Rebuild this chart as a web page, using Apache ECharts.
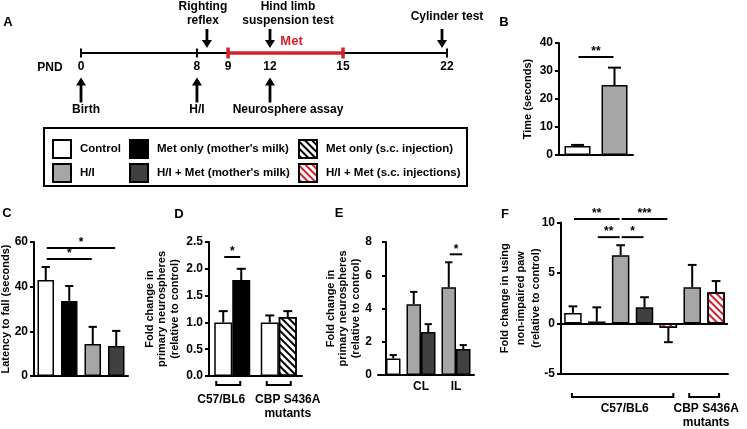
<!DOCTYPE html>
<html><head><meta charset="utf-8">
<script src="https://cdn.jsdelivr.net/npm/echarts@6/dist/echarts.min.js"></script>
<style>html,body{margin:0;padding:0;background:#fff}#c{width:747px;height:429px}</style>
</head><body><div id="c"></div>
<script>
// ================= DATA =================
// Panel A timeline (postnatal day labels and their schematic position on the drawn line)
const pndLabels = ['0', '8', '9', '12', '15', '22'];
const pndPos = [0, 6.97, 8.84, 11.36, 15.75, 22];
const pndTicked = [1, 1, 1, 0, 1, 1];
const metRange = [8.84, 15.75];
const eventsAbove = ['Righting\nreflex', 'Hind limb\nsuspension test', 'Cylinder test'];
const eventsAbovePos = [7.57, 11.36, 21.7];
const eventsBelow = ['Birth', 'H/I', 'Neurosphere assay'];
const eventsBelowPos = [0, 6.97, 11.36];

// Groups
const G_CTRL = 'Control', G_HI = 'H/I', G_MM = "Met only (mother's milk)", G_HIMM = "H/I + Met (mother's milk)",
      G_MS = 'Met only (s.c. injection)', G_HIMS = 'H/I + Met (s.c. injections)';

// Panel B
const bGroups = [G_CTRL, G_HI];
const bMean = [3.2, 25.0];
const bErr = [3.6, 31.2];
const bSig = [[0, 0, 1, 0, 35]]; const bSigText = ['**'];

// Panel C
const cGroups = [G_CTRL, G_MM, G_HI, G_HIMM];
const cMean = [43.0, 33.6, 14.3, 13.4];
const cErr = [48.8, 40.3, 22.0, 20.2];
const cSig = [[0, 0, 3, 0, 57.3], [0, 0, 2, 0, 52.4]]; const cSigText = ['*', '*'];

// Panel D
const dCategories = ['C57/BL6', 'CBP S436A\nmutants'];
const dControl = [1.0, 1.0];
const dControlErr = [1.21, 1.13];
const dMetMilk = [1.79, '-'];
const dMetMilkErr = [2.0, '-'];
const dMetSc = ['-', 1.10];
const dMetScErr = ['-', 1.21];
const dSig = [[0, 0, 0, 1, 2.22]]; const dSigText = ['*'];

// Panel E
const eCategories = ['', 'CL', 'IL'];
const eControl = [1.0, '-', '-'];
const eControlErr = [1.2, '-', '-'];
const eHI = ['-', 4.26, 5.28];
const eHIErr = ['-', 5.0, 6.78];
const eHIMet = ['-', 2.58, 1.56];
const eHIMetErr = ['-', 3.06, 1.8];
const eSig = [[2, 0, 2, 1, 7.26]]; const eSigText = ['*'];

// Panel F
const fGroups = [G_CTRL, G_MM, G_HI, G_HIMM, G_HIMS, G_HI, G_HIMS];
const fMean = [1.05, 0.2, 6.76, 1.6, -0.45, 3.6, 3.1];
const fErr = [1.7, 1.6, 7.75, 2.6, -1.85, 5.8, 4.2];
const fStrains = ['C57/BL6', 'CBP S436A\nmutants'];
const fStrainSpan = [[0, 0, 4, 0], [5, 0, 6, 0]];
const fSig = [[0, 0, 2, 0, 10.34], [2, 0, 4, 0, 10.34], [1, 0, 2, 0, 8.55], [2, 0, 3, 0, 8.55]];
const fSigText = ['**', '***', '**', '*'];

// ================= STYLE =================
const FONT = "'Liberation Sans', Arial, Helvetica, sans-serif";
const RED = '#d3202e';
function stripe(c) { return { symbol: 'rect', symbolSize: 1, dashArrayX: [1, 0], dashArrayY: [2, 2.2], rotation: Math.PI / 4, color: c }; }
const FILL = {}; FILL[G_CTRL] = '#ffffff'; FILL[G_HI] = '#a6a6a6'; FILL[G_MM] = '#000000'; FILL[G_HIMM] = '#404040'; FILL[G_MS] = '#ffffff'; FILL[G_HIMS] = '#ffffff';
const DECAL = {}; DECAL[G_MS] = stripe('#000'); DECAL[G_HIMS] = stripe(RED);
function barStyle(name) {
  const s = { color: FILL[name], borderColor: '#000', borderWidth: 1.5, opacity: 1 };
  if (DECAL[name]) s.decal = DECAL[name];
  return s;
}
const aboveLabelDx = [-4, 18, 5], aboveLabelDist = [1, 1, 5];
const belowLabelDx = [5, 0, 18];
const dBracketDx = [-4, 0], dLabelDx = [-7, 9];
const fBracketDx = [2, 0], fLabelDx = [2, 2];

function arrowPath(len, head) {
  return 'path://M3.6,0 L6.4,0 L6.4,' + (len - head) + ' L10,' + (len - head) + ' L5,' + len + ' L0,' + (len - head) + ' L3.6,' + (len - head) + ' Z';
}

// ================= HELPERS =================
function singleSlotBars(gi, groups, means, barW) {
  const uniq = [...new Set(groups)];
  return uniq.map(name => ({
    type: 'bar', name, xAxisIndex: gi, yAxisIndex: gi, silent: true,
    data: groups.map((g, i) => g === name ? means[i] : '-'),
    barWidth: barW, barGap: '-100%', itemStyle: barStyle(name), z: 2
  }));
}
function errRender(barW, nSlots) {
  return function (params, api) {
    const b = api.coord([api.value(0), api.value(1)]);
    const t = api.coord([api.value(0), api.value(2)]);
    const x = b[0] + (api.value(3) - (nSlots - 1) / 2) * barW;
    const cap = barW * 0.5;
    const st = { stroke: '#000', lineWidth: 2 };
    return { type: 'group', children: [
      { type: 'line', shape: { x1: x, y1: b[1], x2: x, y2: t[1] }, style: st },
      { type: 'line', shape: { x1: x - cap / 2, y1: t[1], x2: x + cap / 2, y2: t[1] }, style: st }
    ] };
  };
}
function errSeries(gi, rows, barW, nSlots) {
  return { type: 'custom', xAxisIndex: gi, yAxisIndex: gi, silent: true, z: 3, clip: false,
    encode: { x: 0, y: 1 }, data: rows, renderItem: errRender(barW, nSlots) };
}
function sigSeries(gi, rows, texts, barW, nSlots) {
  return { type: 'custom', xAxisIndex: gi, yAxisIndex: gi, silent: true, z: 4, clip: false,
    encode: { x: 0, y: 4 }, data: rows,
    renderItem: function (params, api) {
      const off = s => (s - (nSlots - 1) / 2) * barW;
      const p1 = api.coord([api.value(0), api.value(4)]);
      const p2 = api.coord([api.value(2), api.value(4)]);
      const x1 = p1[0] + off(api.value(1)) + 1, x2 = p2[0] + off(api.value(3)) - 1;
      const y = p1[1];
      return { type: 'group', children: [
        { type: 'line', shape: { x1: x1, y1: y, x2: x2, y2: y }, style: { stroke: '#000', lineWidth: 2 } },
        { type: 'text', style: { text: texts[params.dataIndex], x: (x1 + x2) / 2, y: y + 1, align: 'center', verticalAlign: 'bottom', fill: '#000', font: 'bold 12px ' + FONT } }
      ] };
    } };
}
function bracketSeries(gi, rows, texts, barW, nSlots, yMin, dy, ty, bdx, ldx) {
  return { type: 'custom', xAxisIndex: gi, yAxisIndex: gi, silent: true, z: 4, clip: false,
    encode: { x: 0, y: 1 }, data: rows,
    renderItem: function (params, api) {
      const off = s => (s - (nSlots - 1) / 2) * barW;
      const i = params.dataIndex;
      const p1 = api.coord([api.value(0), yMin]);
      const p2 = api.coord([api.value(2), yMin]);
      const x1 = p1[0] + off(api.value(1)) - 3 + bdx[i], x2 = p2[0] + off(api.value(3)) + 3 + bdx[i];
      const y = p1[1] + dy;
      return { type: 'group', children: [
        { type: 'polyline', shape: { points: [[x1, y - 4], [x1, y], [x2, y], [x2, y - 4]] }, style: { stroke: '#000', lineWidth: 2, fill: null } },
        { type: 'text', style: { text: texts[i], x: (x1 + x2) / 2 + ldx[i], y: p1[1] + ty, align: 'center', verticalAlign: 'top', fill: '#000', font: 'bold 12px ' + FONT, lineHeight: 14 } }
      ] };
    } };
}
const axLine = { show: true, onZero: true, lineStyle: { color: '#000', width: 2 } };
function yAx(gi, min, max, interval, name, gap, fmt, lh) {
  return { gridIndex: gi, type: 'value', min, max, interval,
    name, nameLocation: 'middle', nameRotate: 90, nameGap: gap, nameMoveOverlap: false,
    nameTextStyle: { color: '#000', fontWeight: 'bold', fontSize: 11, fontFamily: FONT, lineHeight: lh || 12.5 },
    axisLine: axLine, axisTick: { show: true, length: 4, lineStyle: { color: '#000', width: 2 } },
    axisLabel: { color: '#000', fontWeight: 'bold', fontSize: 12, fontFamily: FONT, margin: 6, formatter: fmt },
    splitLine: { show: false } };
}
function xCat(gi, data, extra) {
  return Object.assign({ gridIndex: gi, type: 'category', data, axisLine: axLine, axisTick: { show: false }, axisLabel: { show: false } }, extra || {});
}
const txtBlack = { color: '#000', fontWeight: 'bold', fontSize: 12, fontFamily: FONT };
const hidden = { color: 'rgba(0,0,0,0)', opacity: 1 };

// ================= SERIES =================
const series = [];
// ---- A: timeline
series.push({ type: 'line', xAxisIndex: 0, yAxisIndex: 0, silent: true, symbol: 'none', z: 2,
  data: [[pndPos[0], 0], [pndPos[pndPos.length - 1], 0]], lineStyle: { color: '#000', width: 2 } });
series.push({ type: 'line', xAxisIndex: 0, yAxisIndex: 0, silent: true, symbol: 'none', z: 3,
  data: [[metRange[0], 0], [metRange[1], 0]], lineStyle: { color: RED, width: 3.5 } });
series.push({ type: 'scatter', xAxisIndex: 0, yAxisIndex: 0, silent: true, symbol: 'rect', z: 4,
  data: pndPos.map((p, i) => {
    if (!pndTicked[i]) return null;
    const met = (p === metRange[0] || p === metRange[1]);
    return { value: [p, 0], symbolSize: met ? [3.5, 11] : [2, 9], itemStyle: { color: met ? RED : '#000', opacity: 1 } };
  }).filter(Boolean) });
series.push({ type: 'scatter', xAxisIndex: 0, yAxisIndex: 0, silent: true, symbolSize: 1, itemStyle: hidden, z: 5,
  data: pndPos.map(p => [p, 0]),
  label: Object.assign({ show: true, position: 'bottom', distance: 7, formatter: p => pndLabels[p.dataIndex] }, txtBlack) });
series.push({ type: 'scatter', xAxisIndex: 0, yAxisIndex: 0, silent: true, symbolSize: 1, itemStyle: hidden, z: 5,
  data: [[(metRange[0] + metRange[1]) / 2, 0]],
  label: { show: true, position: 'top', distance: 5, offset: [6, 0], formatter: 'Met', color: RED, fontWeight: 'bold', fontSize: 13, fontFamily: FONT } });
series.push({ type: 'scatter', xAxisIndex: 0, yAxisIndex: 0, silent: true, symbol: arrowPath(19, 8), symbolSize: [10, 19], itemStyle: { color: '#000', opacity: 1 }, z: 5,
  data: eventsAbovePos.map((p, i) => ({ value: [p, 14.5], label: { offset: [aboveLabelDx[i], 0], distance: aboveLabelDist[i] } })),
  label: Object.assign({ show: true, position: 'top', formatter: p => eventsAbove[p.dataIndex], lineHeight: 14, align: 'center' }, txtBlack) });
series.push({ type: 'scatter', xAxisIndex: 0, yAxisIndex: 0, silent: true, symbol: arrowPath(25, 8), symbolSize: [10, 25], symbolRotate: 180, itemStyle: { color: '#000', opacity: 1 }, z: 5,
  data: eventsBelowPos.map((p, i) => ({ value: [p, -37], label: { offset: [belowLabelDx[i], 0] } })),
  label: Object.assign({ show: true, position: 'bottom', distance: 1, formatter: p => eventsBelow[p.dataIndex] }, txtBlack) });

// ---- B
series.push(...singleSlotBars(1, bGroups, bMean, 26));
series.push(errSeries(1, bGroups.map((g, i) => [i, bMean[i], bErr[i], 0]), 26, 1));
series.push(sigSeries(1, bSig, bSigText, 26, 1));
// ---- C
series.push(...singleSlotBars(2, cGroups, cMean, 16.5));
series.push(errSeries(2, cGroups.map((g, i) => [i, cMean[i], cErr[i], 0]), 16.5, 1));
series.push(sigSeries(2, cSig, cSigText, 16.5, 1));
// ---- D
const dBarW = 18;
series.push({ type: 'bar', name: G_CTRL, xAxisIndex: 3, yAxisIndex: 3, silent: true, stack: 'dl', data: dControl, barWidth: dBarW, barGap: 0, itemStyle: barStyle(G_CTRL) });
series.push({ type: 'bar', name: G_MM, xAxisIndex: 3, yAxisIndex: 3, silent: true, stack: 'dr', data: dMetMilk, barWidth: dBarW, barGap: 0, itemStyle: barStyle(G_MM) });
series.push({ type: 'bar', name: G_MS, xAxisIndex: 3, yAxisIndex: 3, silent: true, stack: 'dr', data: dMetSc, barWidth: dBarW, barGap: 0, itemStyle: barStyle(G_MS) });
const dErrRows = [];
dCategories.forEach((c, i) => {
  if (dControl[i] !== '-') dErrRows.push([i, dControl[i], dControlErr[i], 0]);
  if (dMetMilk[i] !== '-') dErrRows.push([i, dMetMilk[i], dMetMilkErr[i], 1]);
  if (dMetSc[i] !== '-') dErrRows.push([i, dMetSc[i], dMetScErr[i], 1]);
});
series.push(errSeries(3, dErrRows, dBarW, 2));
series.push(sigSeries(3, dSig, dSigText, dBarW, 2));
series.push(bracketSeries(3, dCategories.map((c, i) => [i, 0, i, 1]), dCategories, dBarW, 2, 0, 9, 17, dBracketDx, dLabelDx));
// ---- E (value x axis: groups placed at index positions)
const eBarW = 14.5;
const ePairs = arr => arr.map((v, i) => [i, v]);
series.push({ type: 'bar', name: G_HI, xAxisIndex: 4, yAxisIndex: 4, silent: true, stack: 'ea', data: ePairs(eHI), barWidth: eBarW, barGap: 0, itemStyle: barStyle(G_HI) });
series.push({ type: 'bar', name: G_CTRL, xAxisIndex: 4, yAxisIndex: 4, silent: true, stack: 'eb', data: ePairs(eControl), barWidth: eBarW, barGap: 0, itemStyle: barStyle(G_CTRL) });
series.push({ type: 'bar', name: G_HIMM, xAxisIndex: 4, yAxisIndex: 4, silent: true, stack: 'eb', data: ePairs(eHIMet), barWidth: eBarW, barGap: 0, itemStyle: barStyle(G_HIMM) });
const eErrRows = [];
eCategories.forEach((c, i) => {
  if (eHI[i] !== '-') eErrRows.push([i, eHI[i], eHIErr[i], 0]);
  if (eControl[i] !== '-') eErrRows.push([i, eControl[i], eControlErr[i], 1]);
  if (eHIMet[i] !== '-') eErrRows.push([i, eHIMet[i], eHIMetErr[i], 1]);
});
series.push(errSeries(4, eErrRows, eBarW, 2));
series.push(sigSeries(4, eSig, eSigText, eBarW, 2));
// ---- F
const fBars = singleSlotBars(5, fGroups, fMean, 17.5);
fBars[0].markLine = { silent: true, symbol: ['none', 'none'], label: { show: false }, animation: false,
  lineStyle: { color: '#000', width: 2, type: 'solid', opacity: 1 }, data: [{ yAxis: 0 }] };
series.push(...fBars);
series.push(errSeries(5, fGroups.map((g, i) => [i, fMean[i], fErr[i], 0]), 17.5, 1));
series.push(sigSeries(5, fSig, fSigText, 17.5, 1));
series.push(bracketSeries(5, fStrainSpan, fStrains, 17.5, 1, -5, 23, 28, fBracketDx, fLabelDx));

// ================= OPTION =================
const ob = { outerBoundsMode: 'none' };
const legendBase = { orient: 'vertical', itemWidth: 18, itemHeight: 18, itemGap: 4, padding: 0, icon: 'rect', selectedMode: false,
  itemStyle: { borderColor: '#000', borderWidth: 2 },
  textStyle: { color: '#000', fontWeight: 'bold', fontSize: 11.5, fontFamily: FONT, padding: [0, 0, 0, 4] } };
const letter = (t, x, y) => ({ type: 'text', x, y, style: { text: t, fill: '#000', font: 'bold 13px ' + FONT, align: 'center', verticalAlign: 'middle' } });
const option = {
  animation: false,
  textStyle: { fontFamily: FONT },
  grid: [
    Object.assign({ left: 81, top: 0, width: 366, height: 120 }, ob),
    Object.assign({ left: 559, top: 43, width: 74, height: 112 }, ob),
    Object.assign({ left: 34, top: 242, width: 94, height: 134 }, ob),
    Object.assign({ left: 209, top: 242, width: 93, height: 134 }, ob),
    Object.assign({ left: 378, top: 242, width: 96, height: 133 }, ob),
    Object.assign({ left: 561, top: 222.5, width: 167, height: 151.5 }, ob)
  ],
  xAxis: [
    { gridIndex: 0, type: 'value', min: 0, max: 22, show: false },
    xCat(1, bGroups),
    xCat(2, cGroups),
    xCat(3, dCategories),
    { gridIndex: 4, type: 'value', min: -0.2286, max: 2.514, axisLine: axLine, axisTick: { show: false }, splitLine: { show: false },
      axisLabel: { color: '#000', fontWeight: 'bold', fontSize: 12, fontFamily: FONT, margin: 6,
        formatter: v => { const k = Math.round(v); return Math.abs(v - k) < 1e-6 && eCategories[k] !== undefined ? eCategories[k] : ''; } } },
    xCat(5, fGroups.map((g, i) => String(i)), { axisLine: { show: true, onZero: false, lineStyle: { color: '#000', width: 2 } } })
  ],
  yAxis: [
    { gridIndex: 0, type: 'value', min: -67, max: 53, show: false },
    yAx(1, 0, 40, 10, 'Time (seconds)', 25),
    yAx(2, 0, 60, 20, 'Latency to fall (seconds)', 22),
    yAx(3, 0, 2.5, 0.5, 'Fold change in\nprimary neurospheres\n(relative to control)', 28, v => v.toFixed(1), 12.5),
    yAx(4, 0, 8, 2, 'Fold change in\nprimary neurospheres\n(relative to control)', 16, null, 12.5),
    yAx(5, -5, 10, 5, 'Fold change in using\nnon-impaired paw\n(relative to control)', 17, null, 15.5)
  ],
  legend: [
    Object.assign({ left: 52, top: 139, data: [G_CTRL, G_HI] }, legendBase),
    Object.assign({ left: 129, top: 139, data: [G_MM, G_HIMM] }, legendBase),
    Object.assign({ left: 298, top: 139, data: [G_MS, G_HIMS] }, legendBase)
  ],
  graphic: [
    { type: 'rect', shape: { x: 44, y: 128, width: 423, height: 58 }, style: { fill: 'none', stroke: '#000', lineWidth: 2 }, silent: true },
    letter('A', 8, 22), letter('B', 504, 22), letter('C', 7, 213), letter('D', 179, 214), letter('E', 339, 213), letter('F', 505, 214),
    { type: 'text', x: 50, y: 68, style: { text: 'PND', fill: '#000', font: 'bold 12px ' + FONT, align: 'center', verticalAlign: 'middle' } }
  ],
  series
};
const chart = echarts.init(document.getElementById('c'), null, { renderer: 'canvas' });
chart.setOption(option);
</script>
</body></html>
